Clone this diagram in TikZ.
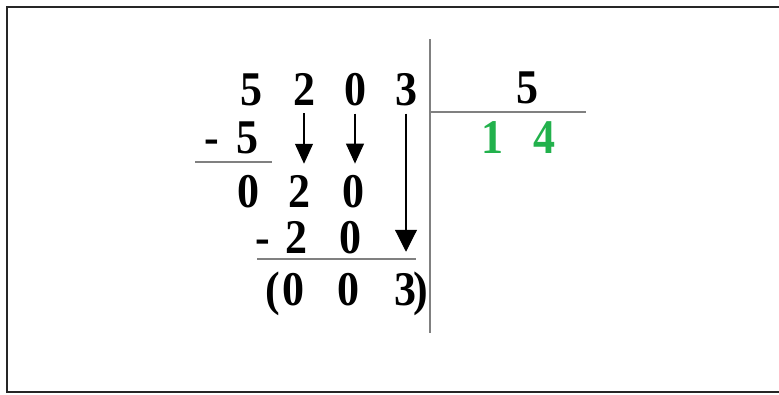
\documentclass[tikz,border=0pt]{standalone}
\usepackage{fontspec}
\setmainfont{Liberation Serif}
\usetikzlibrary{arrows.meta}

\definecolor{quotgreen}{RGB}{34,177,76}
\definecolor{rulegray}{RGB}{128,128,128}

\newcommand{\tallfig}[1]{\scalebox{1}[1.1]{#1}}

\tikzset{
digit/.style={font=\fontsize{44}{48}\selectfont\bfseries, inner sep=0pt, anchor=base},
divrule/.style={rulegray, line width=2.8pt},
bring/.style={line width=1.1pt, -{Triangle[width=18pt,length=20pt]}}
}

\begin{document}
\begin{tikzpicture}[x=1pt,y=-1pt]

\useasboundingbox (0,0) rectangle (779,394);
\draw[line width=1.6pt, black!85] (779,7)--(7,7)--(7,392)--(779,392);

% dividend
\foreach \x/\d/\n in {251/5/a1,304/2/a2,355/0/a3,406/3/a4}
{
\node[digit] (\n) at (\x,105) {\tallfig{\d}};
}

% first step
\node[digit] (m1) at (212,153) {\tallfig{-}};
\node[digit] (b1) at (247,153) {\tallfig{5}};
\draw[divrule] (195,162)--(272,162);

\foreach \x/\d/\n in {248/0/c1,299/2/c2,353/0/c3}
{
\node[digit] (\n) at (\x,207) {\tallfig{\d}};
}

% second step
\node[digit] (m2) at (263,253) {\tallfig{-}};
\node[digit] (d2) at (296,253) {\tallfig{2}};
\node[digit] (d3) at (350,253) {\tallfig{0}};
\draw[divrule] (257,259)--(416,259);

\node[digit] (p1) at (273,305) {\tallfig{(}};
\node[digit] (e1) at (293,305) {\tallfig{0}};
\node[digit] (e2) at (348,305) {\tallfig{0}};
\node[digit] (e4) at (405,305) {\tallfig{3}};
\node[digit] (p2) at (421,305) {\tallfig{)}};

% brought down digits
\draw[bring, shorten <=8pt, shorten >=11pt] (a2.south)--(a2.south|-c2.north);
\draw[bring, shorten <=8pt, shorten >=11pt] (a3.south)--(a3.south|-c3.north);
\draw[line width=1.1pt, -{Triangle[width=22pt,length=22pt]}, shorten <=8pt, shorten >=21pt] (a4.south)--(a4.south|-e4.north);

% divisor and quotient
\draw[rulegray, line width=2pt] (430,39)--(430,333);
\draw[divrule] (430,112)--(586,112);
\node[digit] (dv) at (527,103) {\tallfig{5}};
\node[digit, quotgreen] (q1) at (492,153) {\tallfig{1}};
\node[digit, quotgreen] (q2) at (544,153) {\tallfig{4}};

\end{tikzpicture}
\end{document}
